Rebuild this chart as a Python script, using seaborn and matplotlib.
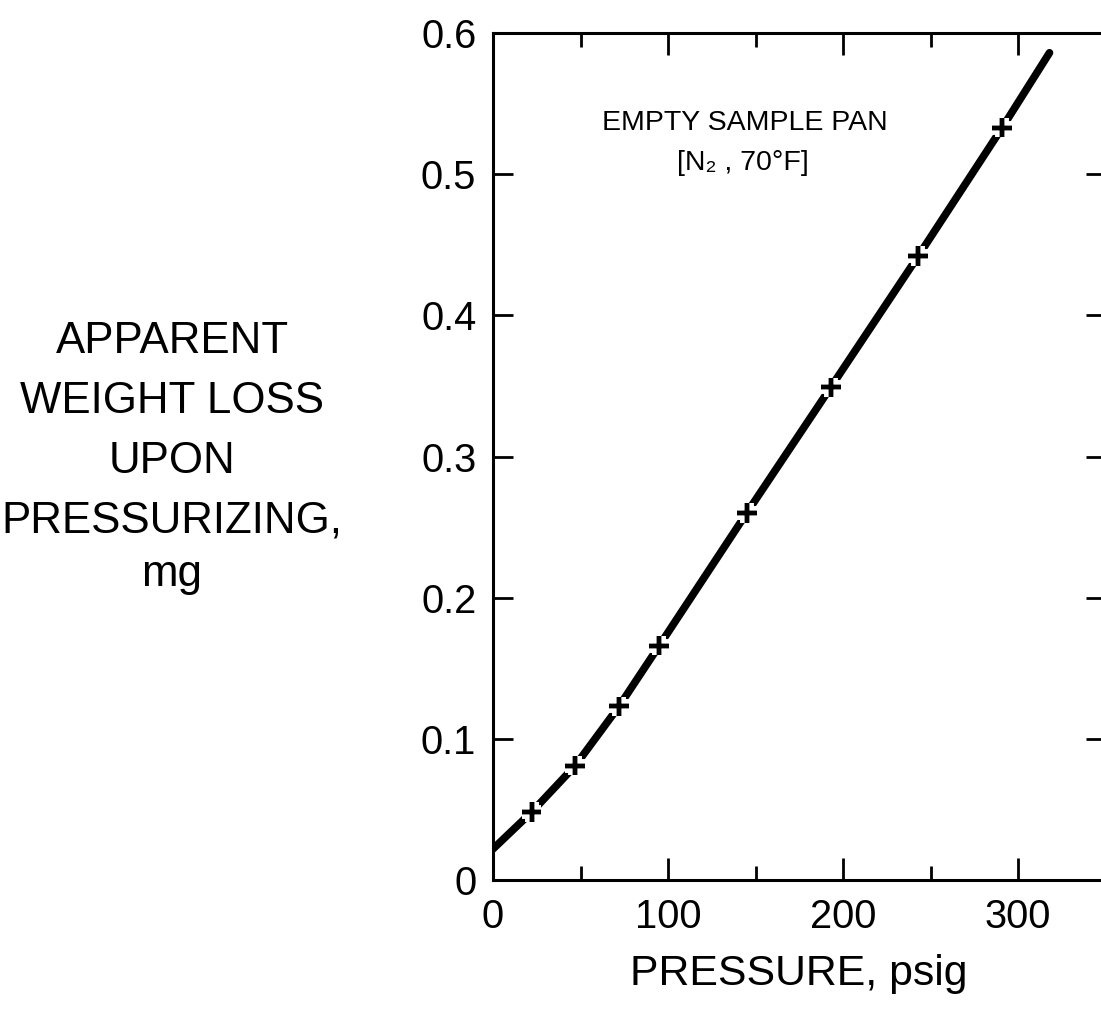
import matplotlib
matplotlib.use("Agg")
import matplotlib.pyplot as plt
import matplotlib.patheffects as pe
from matplotlib import font_manager
import seaborn as sns

# ---------------- data ----------------
curve_pressure = [0, 22, 47, 72, 95, 145, 193, 243, 291, 318]
curve_weight = [0.022, 0.048, 0.081, 0.123, 0.166, 0.260, 0.349, 0.442, 0.533, 0.586]

point_pressure = [22, 47, 72, 95, 145, 193, 243, 291]
point_weight = [0.048, 0.081, 0.123, 0.166, 0.260, 0.349, 0.442, 0.533]

x_ticks = [0, 100, 200, 300]
x_tick_labels = ["0", "100", "200", "300"]
x_minor_ticks = [50, 150, 250]
y_ticks = [0, 0.1, 0.2, 0.3, 0.4, 0.5, 0.6]
y_tick_labels = ["0", "0.1", "0.2", "0.3", "0.4", "0.5", "0.6"]

x_title = "PRESSURE, psig"
y_title_lines = ["APPARENT", "WEIGHT LOSS", "UPON", "PRESSURIZING,", "mg"]
note_lines = ["EMPTY SAMPLE PAN", "[N\u2082 , 70\u00b0F]"]

# ---------------- style ----------------
sns.set_style("white")
names = {f.name for f in font_manager.fontManager.ttflist}
if "Liberation Sans Narrow" in names:
    FAM = ["Liberation Sans Narrow", "DejaVu Sans"]
    k = 1.0
elif "Liberation Sans" in names:
    FAM = ["Liberation Sans", "DejaVu Sans"]
    k = 0.82
else:
    FAM = ["DejaVu Sans"]
    k = 0.76
plt.rcParams["font.family"] = FAM
plt.rcParams["text.color"] = "black"
plt.rcParams["axes.labelcolor"] = "black"
plt.rcParams["xtick.color"] = "black"
plt.rcParams["ytick.color"] = "black"

W, H = 1101, 1016
fig = plt.figure(figsize=(W / 100, H / 100), dpi=100)
left_px, right_px, top_px, bottom_px = 493, 493 + 612.5, 33, 880
ax = fig.add_axes([left_px / W, 1 - bottom_px / H,
                   (right_px - left_px) / W, (bottom_px - top_px) / H])

# curve
sns.lineplot(x=curve_pressure, y=curve_weight, ax=ax, color="black",
             linewidth=5.5, sort=False, estimator=None, zorder=2,
             solid_capstyle="round")
# data points (crosses), with a white halo that interrupts the curve
sns.scatterplot(x=point_pressure, y=point_weight, ax=ax, marker="+",
                s=200, linewidth=3.2, color="black", zorder=3)
ax.collections[-1].set_path_effects(
    [pe.withStroke(linewidth=10, foreground="white"), pe.Normal()])

ax.set_xlim(0, 350)
ax.set_ylim(0, 0.6)

ax.set_xticks(x_ticks)
ax.set_xticklabels(x_tick_labels)
ax.set_xticks(x_minor_ticks, minor=True)
ax.set_yticks(y_ticks)
ax.set_yticklabels(y_tick_labels)

ax.tick_params(axis="x", which="major", direction="in", length=16, width=2,
               top=True, bottom=True, labelsize=35 * k, pad=13, colors="black")
ax.tick_params(axis="x", which="minor", direction="in", length=10, width=2,
               top=True, bottom=True)
ax.tick_params(axis="y", which="major", direction="in", length=14.5, width=2,
               left=True, right=True, labelsize=35 * k, pad=12, colors="black")

for s in ax.spines.values():
    s.set_visible(True)
    s.set_linewidth(2.2)
    s.set_color("black")

ax.set_xlabel(x_title, fontsize=37.5 * k, labelpad=13)

# multi-line horizontal y title
baselines = [353, 413, 473, 533, 586]
for line, yb in zip(y_title_lines, baselines):
    fig.text(172 / W, 1 - yb / H, line, ha="center", va="baseline",
             fontsize=38.5 * k)

# annotation inside the plot
ax.text(144, 0.531, note_lines[0], ha="center", va="baseline",
        fontsize=25 * k)
ax.text(143, 0.503, note_lines[1], ha="center", va="baseline",
        fontsize=25 * k)

fig.savefig("out.png", dpi=100, facecolor="white")
